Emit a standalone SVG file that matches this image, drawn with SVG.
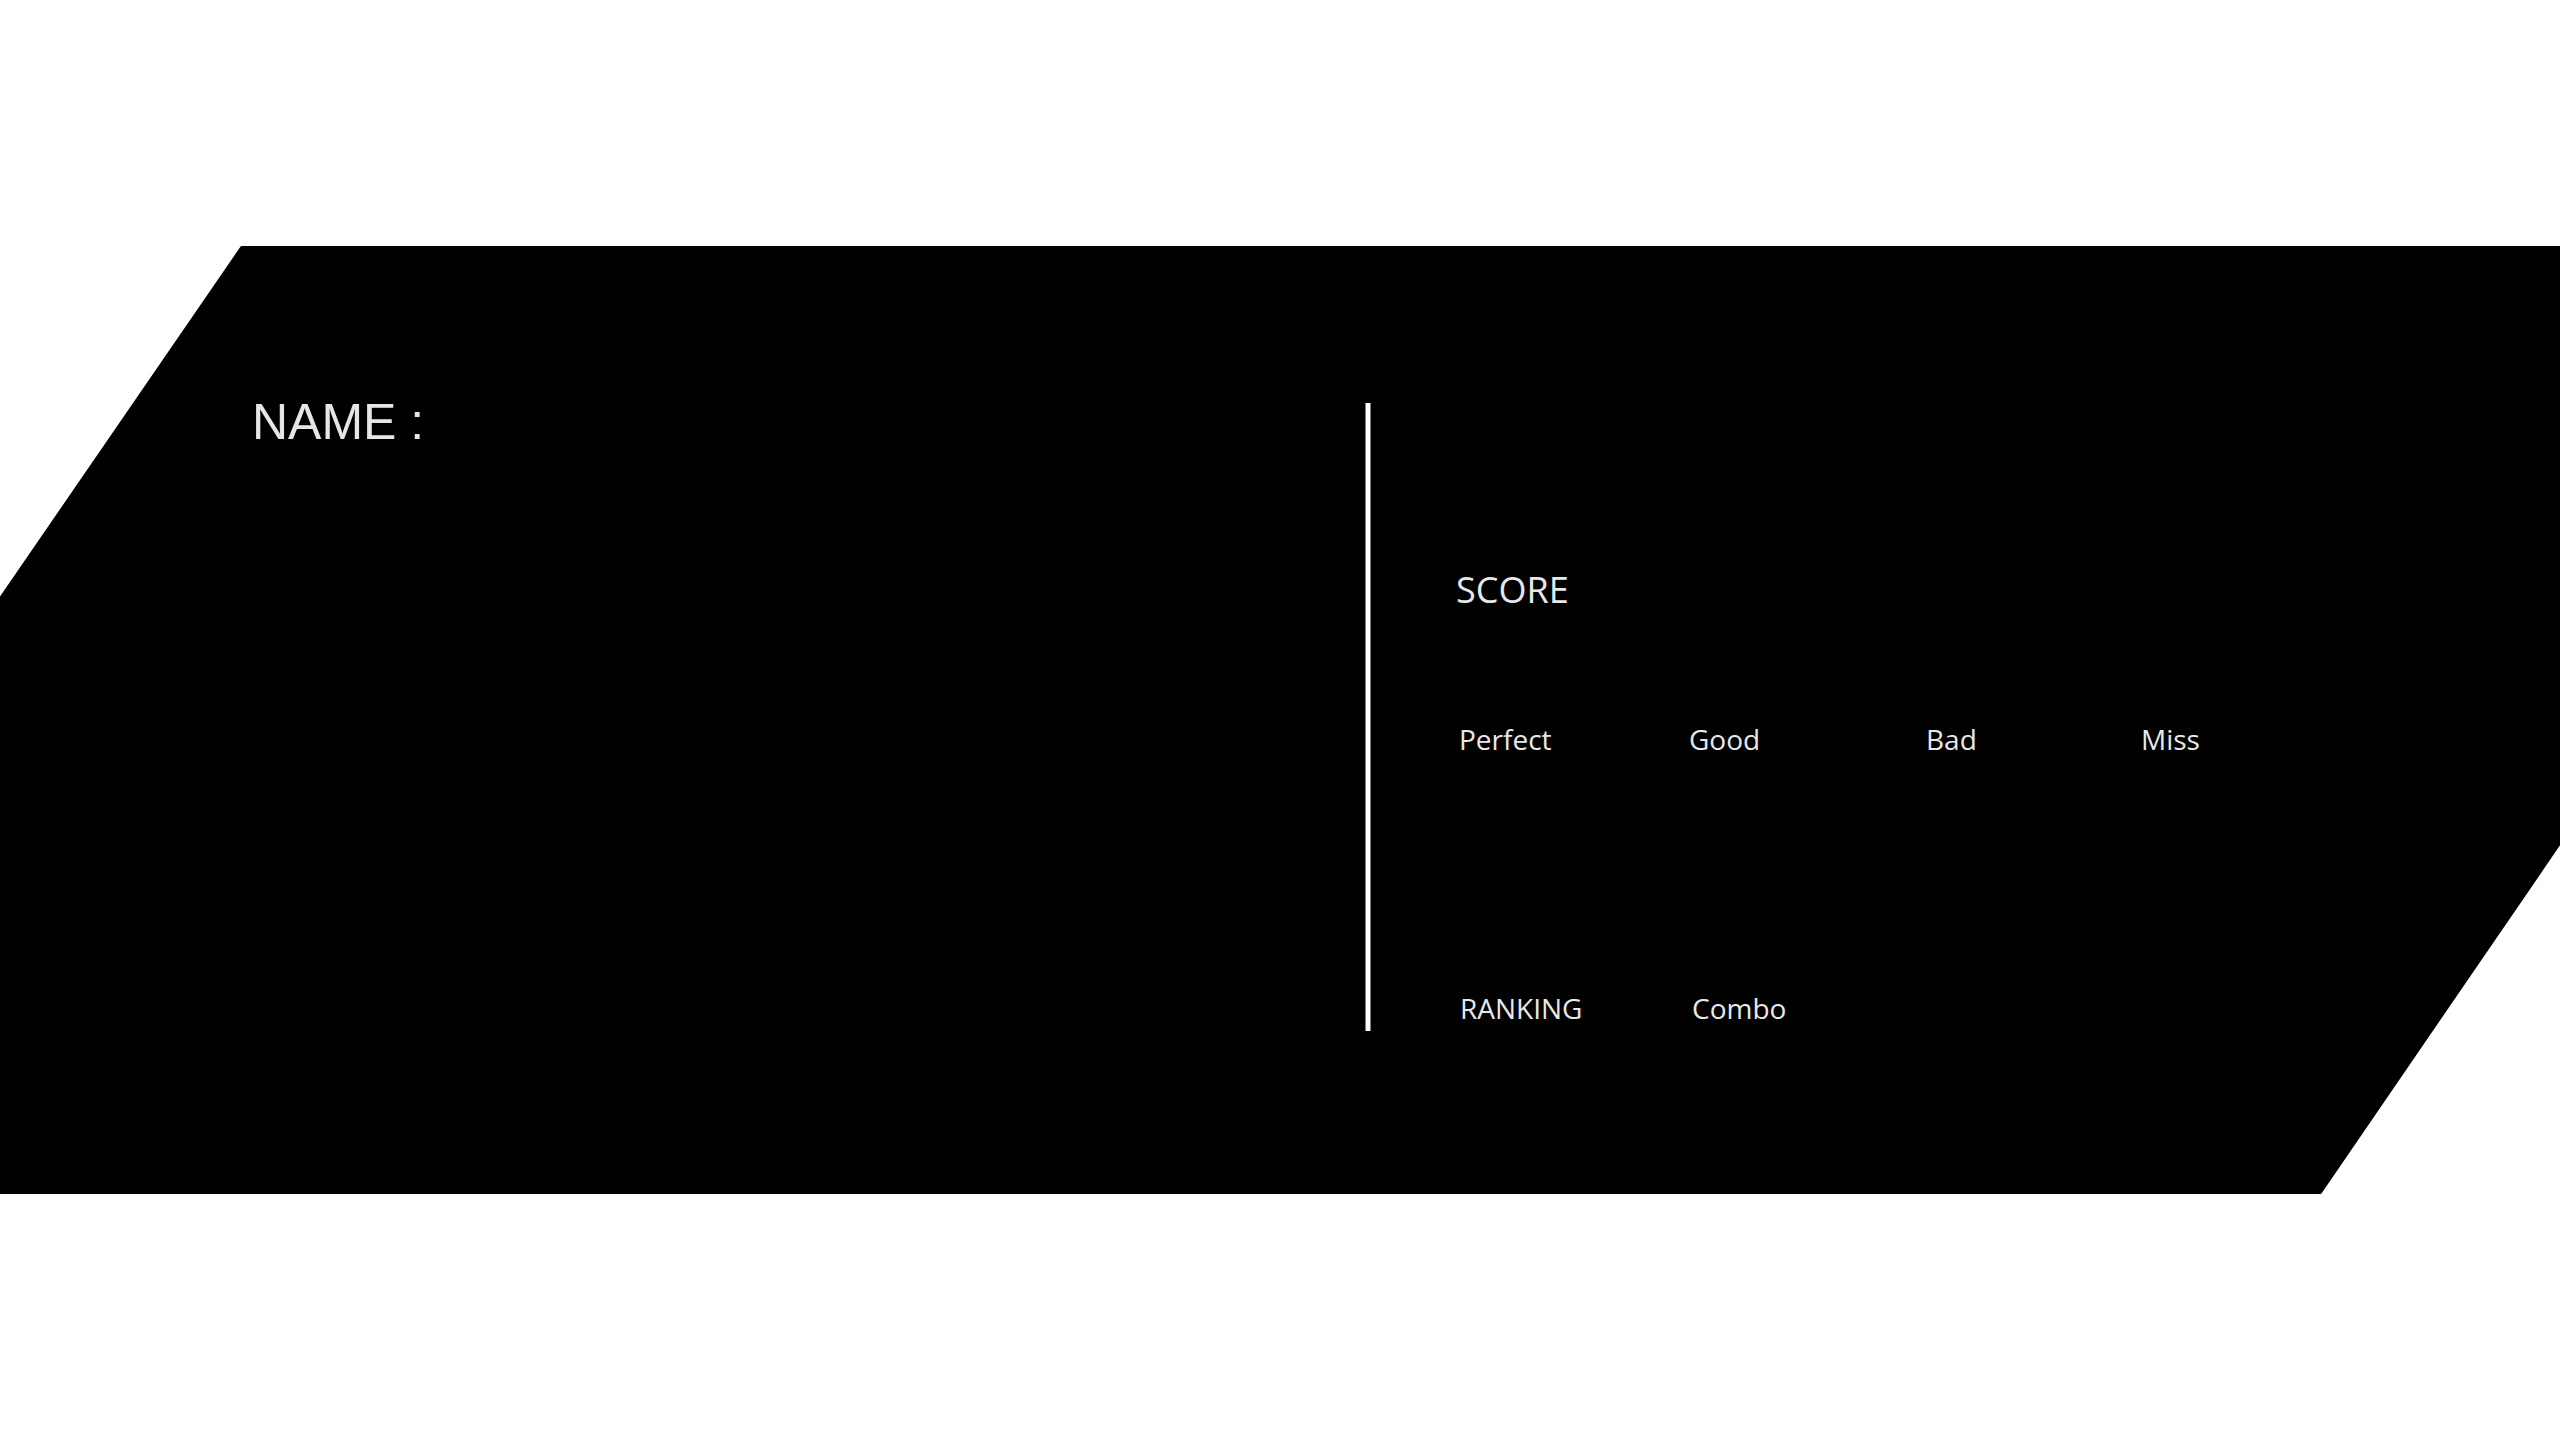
<svg xmlns="http://www.w3.org/2000/svg" width="2560" height="1440" viewBox="0 0 2560 1440">
<style>
.panel{fill:#000000;stroke:#000000;stroke-width:4;stroke-linejoin:round}
.name{font-family:"Liberation Sans",Arial,sans-serif;font-size:50px;fill:#e6e6e6}
.lbl{font-family:"Open Sans","Noto Sans",sans-serif;fill:#e8e8e8}
.big{font-size:36px}
.sm{font-size:28px}
.divider{stroke:#ffffff;stroke-width:5}
</style>
<rect width="2560" height="1440" fill="#ffffff"/>
<g id="panel">
<polygon class="panel" points="242,248 2967,248 2320,1192 -407,1192"/>
</g>
<g id="name-label"><text class="name" x="252" y="439">NAME :</text></g>
<g id="connectors"><line class="divider" x1="1368" y1="403" x2="1368" y2="1031"/></g>
<g id="score"><text class="lbl big" x="1456" y="603">SCORE</text></g>
<g id="perfect"><text class="lbl sm" x="1459" y="750">Perfect</text></g>
<g id="good"><text class="lbl sm" x="1689" y="750">Good</text></g>
<g id="bad"><text class="lbl sm" x="1926" y="750">Bad</text></g>
<g id="miss"><text class="lbl sm" x="2141" y="750">Miss</text></g>
<g id="ranking"><text class="lbl sm" x="1460" y="1019">RANKING</text></g>
<g id="combo"><text class="lbl sm" x="1692" y="1019">Combo</text></g>
</svg>
